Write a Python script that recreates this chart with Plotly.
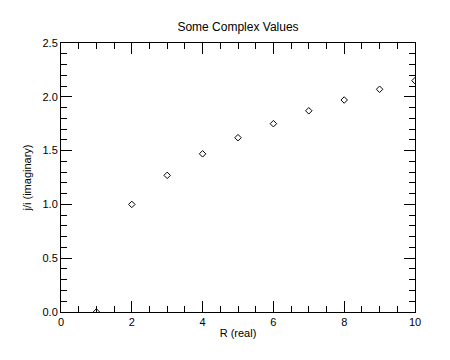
import plotly.graph_objects as go

real_part = [1, 2, 3, 4, 5, 6, 7, 8, 9, 10]
imag_part = [0.0, 1.0, 1.27, 1.47, 1.62, 1.75, 1.87, 1.97, 2.07, 2.15]

title_text = "Some Complex Values"
x_title = "R (real)"
y_title = "j/i (imaginary)"

font = dict(family="Liberation Sans, Arial, Helvetica, sans-serif", size=11, color="black")

W, H = 442, 352

fig = go.Figure()
fig.add_trace(go.Scatter(
    x=real_part, y=imag_part, mode="markers",
    marker=dict(symbol="diamond-open", size=5, color="black", line=dict(width=1, color="black")),
    cliponaxis=True, showlegend=False,
))

axis_common = dict(
    showgrid=False, zeroline=False, showline=True, linecolor="black", linewidth=1,
    mirror="ticks", ticks="inside", tickcolor="black", tickwidth=1, ticklen=11,
    tickfont=font,
)

fig.update_xaxes(range=[0, 10], tick0=0, dtick=2,
                 minor=dict(dtick=0.5, ticks="inside", ticklen=6, tickcolor="black", tickwidth=1),
                 title=dict(text=x_title, font=font, standoff=2), **axis_common)
fig.update_yaxes(range=[0, 2.5], tick0=0, dtick=0.5, tickformat=".1f",
                 minor=dict(dtick=0.1, ticks="inside", ticklen=6, tickcolor="black", tickwidth=1),
                 title=dict(text=y_title, font=font, standoff=8), **axis_common)

fig.update_layout(
    width=W, height=H,
    margin=dict(l=53, r=35, t=35, b=48),
    paper_bgcolor="white", plot_bgcolor="white",
    font=font,
    title=dict(text=title_text, x=230 / W, xanchor="center", y=1 - 19 / H, yanchor="middle",
               font=dict(family=font["family"], size=12, color="black")),
)

fig.write_html("out.html")
